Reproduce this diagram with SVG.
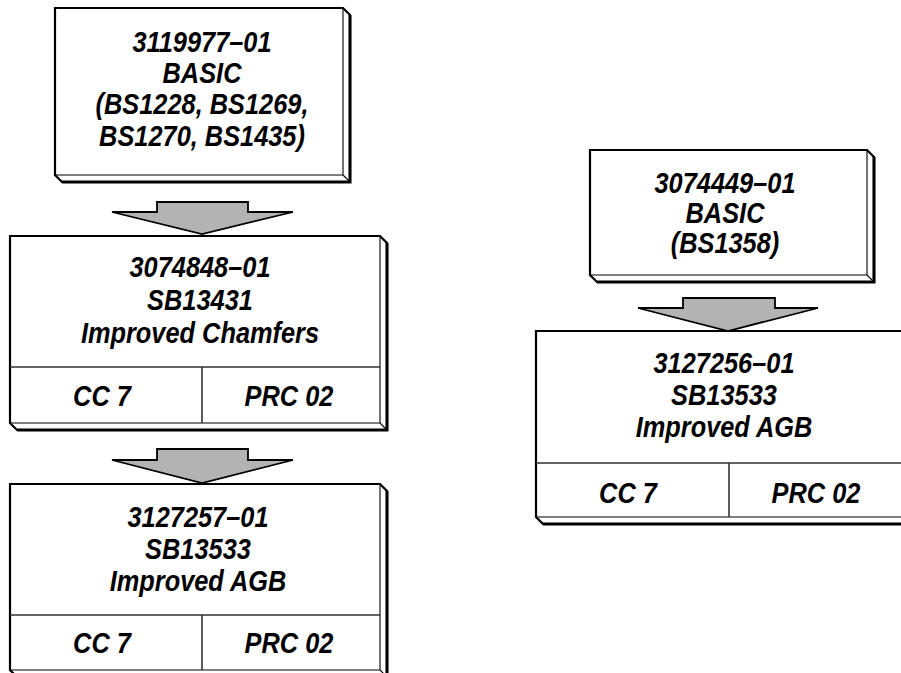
<svg xmlns="http://www.w3.org/2000/svg" width="901" height="673" viewBox="0 0 901 673">
<style>
.face{fill:#fff;stroke:#000;stroke-width:2.2;stroke-linejoin:miter}
.out{fill:none;stroke:#000;stroke-width:3}
.edge{fill:none;stroke:#000;stroke-width:1.1}
.div{fill:none;stroke:#333;stroke-width:1.6}
.arr{fill:#b3b3b3;stroke:#000;stroke-width:1.8;stroke-linejoin:miter}
text{font-family:"Liberation Sans",Arial,Helvetica,sans-serif;font-weight:bold;font-style:italic;font-size:29.5px;text-anchor:middle;fill:#000}
</style>
<rect width="901" height="673" fill="#fff"/>
<g id="connectors">
<polygon class="arr" points="112,212 157,212 157,202 248,202 248,212 293,212 202,234"/>
<polygon class="arr" points="112,460 157,460 157,449 248,449 248,460 293,460 202,483"/>
<polygon class="arr" points="638,308 683,308 683,298 775,298 775,308 818,308 728,331"/>
</g>
<g id="n1">
<path class="face" d="M55,8 H343 L350,15 V182 H62 L55,175 Z"/>
<path class="out" d="M350,15 V182 H62"/>
<path class="edge" d="M343,8 V175 H55 M343,175 L350,182"/>
<g transform="translate(202,0)">
<text transform="translate(0,52) scale(0.86,1)">3119977–01</text>
<text transform="translate(0,83) scale(0.86,1)">BASIC</text>
<text transform="translate(0,114) scale(0.86,1)">(BS1228, BS1269,</text>
<text transform="translate(0,146) scale(0.86,1)">BS1270, BS1435)</text>
</g>
</g>
<g id="n2">
<path class="face" d="M10,236 H380 L387,243 V430 H17 L10,423 Z"/>
<path class="out" d="M387,243 V430 H17"/>
<path class="edge" d="M380,236 V423 H10 M380,423 L387,430"/>
<path class="div" d="M10,367 H380 M202,367 V423"/>
<g transform="translate(200,0)">
<text transform="translate(0,277) scale(0.86,1)">3074848–01</text>
<text transform="translate(0,310) scale(0.86,1)">SB13431</text>
<text transform="translate(0,343) scale(0.86,1)">Improved Chamfers</text>
</g>
<text transform="translate(102,406) scale(0.86,1)">CC 7</text>
<text transform="translate(289,406) scale(0.86,1)">PRC 02</text>
</g>
<g id="n3">
<path class="face" d="M10,484 H380 L387,491 V677 H17 L10,670 Z"/>
<path class="out" d="M387,491 V677"/>
<path class="edge" d="M380,484 V670 H10 M380,670 L387,677"/>
<path class="div" d="M10,615 H380 M202,615 V670"/>
<g transform="translate(198,0)">
<text transform="translate(0,527) scale(0.86,1)">3127257–01</text>
<text transform="translate(0,559) scale(0.86,1)">SB13533</text>
<text transform="translate(0,591) scale(0.86,1)">Improved AGB</text>
</g>
<text transform="translate(102,653) scale(0.86,1)">CC 7</text>
<text transform="translate(289,653) scale(0.86,1)">PRC 02</text>
</g>
<g id="n4">
<path class="face" d="M590,150 H867 L874,157 V282 H597 L590,275 Z"/>
<path class="out" d="M874,157 V282 H597"/>
<path class="edge" d="M867,150 V275 H590 M867,275 L874,282"/>
<g transform="translate(725,0)">
<text transform="translate(0,193) scale(0.86,1)">3074449–01</text>
<text transform="translate(0,223) scale(0.86,1)">BASIC</text>
<text transform="translate(0,253) scale(0.86,1)">(BS1358)</text>
</g>
</g>
<g id="n5">
<path class="face" d="M536,331 H906 L913,338 V524 H543 L536,517 Z"/>
<path class="out" d="M913,338 V524 H543"/>
<path class="edge" d="M906,331 V517 H536 M906,517 L913,524"/>
<path class="div" d="M536,463 H906 M729,463 V517"/>
<g transform="translate(724,0)">
<text transform="translate(0,373) scale(0.86,1)">3127256–01</text>
<text transform="translate(0,405) scale(0.86,1)">SB13533</text>
<text transform="translate(0,437) scale(0.86,1)">Improved AGB</text>
</g>
<text transform="translate(628,503) scale(0.86,1)">CC 7</text>
<text transform="translate(816,503) scale(0.86,1)">PRC 02</text>
</g>
</svg>
